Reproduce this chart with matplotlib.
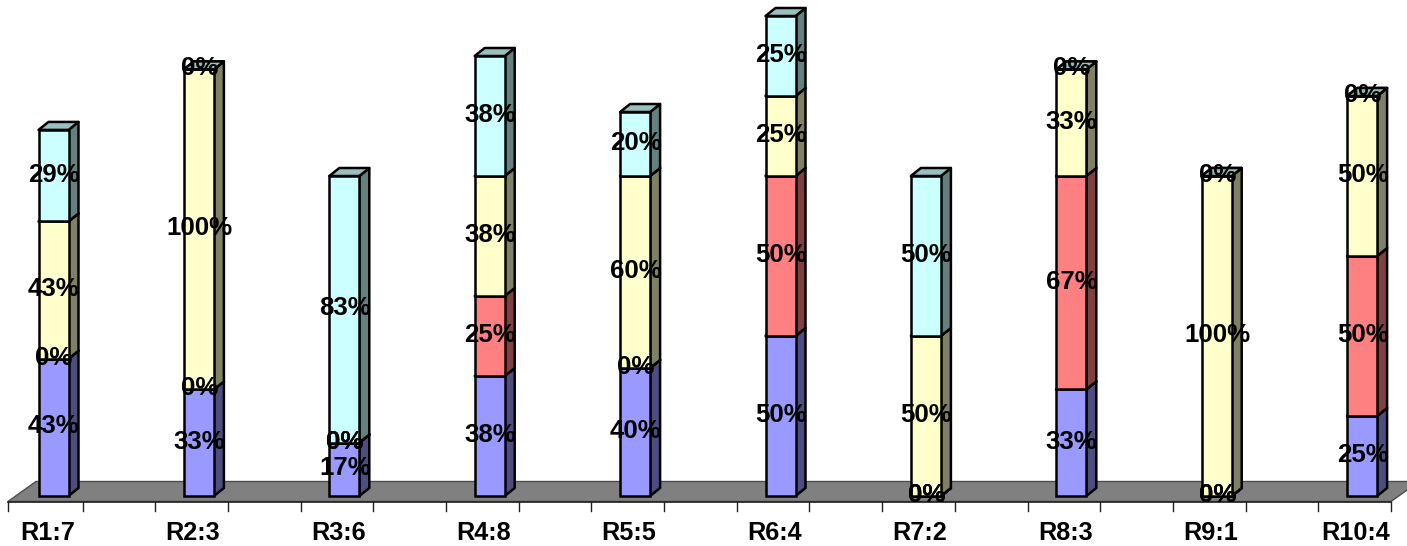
import matplotlib
matplotlib.use("Agg")
import matplotlib.pyplot as plt
from matplotlib.patches import Polygon

categories = ["R1:7", "R2:3", "R3:6", "R4:8", "R5:5", "R6:4", "R7:2", "R8:3", "R9:1", "R10:4"]

# percentages, bottom to top of each stack
blue = [42.9, 33.3, 16.7, 37.5, 40, 50, 0, 33.3, 0, 25]
red = [0, 0, 0, 25, 0, 50, 0, 66.7, 0, 50]
yellow = [42.9, 100, 0, 37.5, 60, 25, 50, 33.3, 100, 50]
cyan = [28.6, 0, 83.3, 37.5, 20, 25, 50, 0, 0, 0]

series = [blue, red, yellow, cyan]
colors = ["#9999FF", "#FF8080", "#FFFFCC", "#CCFFFF"]

W, H = 1407, 546
# pixel layout of the chart
x0_px, x_step = 53.5, 145.4
y0_px, y_step = 496.0, 3.2


def shade(hex_color, k):
    rgb = matplotlib.colors.to_rgb(hex_color)
    return tuple(c * k for c in rgb)


plt.rcParams["font.family"] = ["Liberation Sans", "DejaVu Sans"]
fig = plt.figure(figsize=(W / 100, H / 100), dpi=100)
ax = fig.add_axes([0, 0, 1, 1])
ax.set_xlim((0 - x0_px) / x_step, (W - x0_px) / x_step)
ax.set_ylim((y0_px - H) / y_step, y0_px / y_step)
ax.axis("off")

bar_w = 30 / x_step
dx = 10 / x_step
dy = 8 / y_step

# floor
floor_front = -5.5 / y_step
floor_back = 14.5 / y_step
floor_l = (8 - x0_px) / x_step
floor_r = (1391 - x0_px) / x_step
floor_dx = 28 / x_step
ax.add_patch(Polygon([(floor_l, floor_front), (floor_r, floor_front),
                      (floor_r + floor_dx, floor_back), (floor_l + floor_dx, floor_back)],
                     closed=True, facecolor="#808080", edgecolor="#4d4d4d", lw=1.0, zorder=1))
ax.plot([floor_l, floor_r], [floor_front, floor_front], color="#222222", lw=1.2, zorder=2)

# tick marks every half category, the first one sits on the floor corner
tick_len = 9 / y_step
n_ticks = len(categories) * 2 - 1
first_inner = (82.6 - x0_px) / x_step
tick_xs = [floor_l] + [first_inner + (floor_r - first_inner) * t / (n_ticks - 1) for t in range(n_ticks)]
for tx in tick_xs:
    ax.plot([tx, tx], [floor_front, floor_front - tick_len], color="#222222", lw=1.0, zorder=2)

# stacked 3d bars
edge = dict(edgecolor="black", lw=1.8, joinstyle="round")
for i in range(len(categories)):
    left = i - bar_w / 2
    right = i + bar_w / 2
    base = 0
    for z, (values, color) in enumerate(zip(series, colors), start=3):
        top = base + values[i]
        ax.add_patch(Polygon([(right, base), (right + dx, base + dy), (right + dx, top + dy), (right, top)],
                             closed=True, facecolor=shade(color, 0.5), zorder=z, **edge))
        ax.add_patch(Polygon([(left, top), (right, top), (right + dx, top + dy), (left + dx, top + dy)],
                             closed=True, facecolor=shade(color, 0.75), zorder=z, **edge))
        ax.bar(i, values[i], bar_w, bottom=base, color=color, edgecolor="black", linewidth=1.8, zorder=z)
        base = top

# value labels on top of everything
for i in range(len(categories)):
    base = 0
    for values in series:
        ax.annotate(f"{values[i]:.0f}%", (i, base + values[i] / 2), xytext=(0.5, 1), textcoords="offset pixels",
                    ha="center", va="center", fontsize=18.6, fontweight="bold", color="black", zorder=10)
        base += values[i]

# category labels
label_y = (y0_px - 533) / y_step
for i, name in enumerate(categories):
    ax.text(i - 6 / x_step, label_y, name, ha="center", va="center", fontsize=18.2,
            fontweight="bold", color="black", zorder=10)

fig.savefig("out.png", dpi=100)
